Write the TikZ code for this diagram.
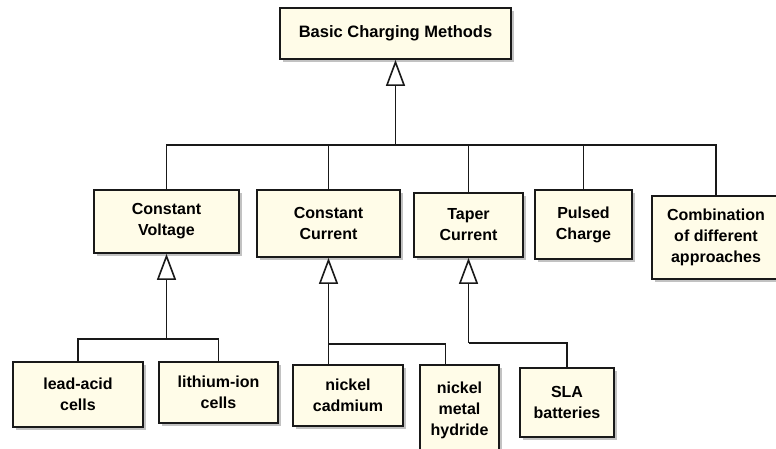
\documentclass[tikz,border=0pt]{standalone}
\usepackage{fontspec}
\setmainfont{Liberation Sans}
\usetikzlibrary{arrows.meta,shadows,calc}
\definecolor{boxfill}{RGB}{255,252,232}
\begin{document}
\begin{tikzpicture}[x=1pt,y=-1pt,
  box/.style={draw=black!90, line width=1.8pt, fill=boxfill, align=center, inner sep=0pt,
    font=\fontsize{16}{21}\selectfont\bfseries,
    drop shadow={shadow xshift=3pt, shadow yshift=-3pt, fill=black!40, opacity=0.6}},
  conn/.style={line width=1.7pt, draw=black!90},
  gen/.style={conn, -{Triangle[open, fill=white, length=26pt, width=19pt, line width=1.6pt]}}]
\useasboundingbox (0,0) rectangle (776,448);
\node[box, minimum width=231pt, minimum height=51pt, font=\fontsize{16.5}{21}\selectfont\bfseries] (top) at (395.5,33.5) {Basic Charging Methods};
\node[box, minimum width=145pt, minimum height=63pt] (cv) at (166.5,221.5) {Constant\\Voltage};
\node[box, minimum width=143pt, minimum height=67pt] (cc) at (328.5,223.5) {Constant\\Current};
\node[box, minimum width=109pt, minimum height=64pt] (tc) at (468.5,225) {Taper\\Current};
\node[box, minimum width=97pt, minimum height=69pt] (pc) at (583.5,224.5) {Pulsed\\Charge};
\node[box, minimum width=128pt, minimum height=83pt] (cb) at (716,237.5) {Combination\\of different\\approaches};
\node[box, minimum width=130pt, minimum height=65pt] (la) at (78,394.5) {lead-acid\\cells};
\node[box, minimum width=119pt, minimum height=61pt] (li) at (218.5,392.5) {lithium-ion\\cells};
\node[box, minimum width=110pt, minimum height=61pt] (ncd) at (348,395.5) {nickel\\cadmium};
\node[box, minimum width=79pt, minimum height=90pt] (nmh) at (459.5,410) {nickel\\metal\\hydride};
\node[box, minimum width=94pt, minimum height=69pt] (sla) at (567,402.5) {SLA\\batteries};
% top level
\path (top.south) ++(0,85) coordinate (b1);
\draw[gen] (b1) -- (top.south);
\draw[conn] (cv.north) |- (b1) -| (cb.north);
\draw[conn] (cc.north) -- (cc.north |- b1);
\draw[conn] (tc.north) -- (tc.north |- b1);
\draw[conn] (pc.north) -- (pc.north |- b1);
% constant voltage
\path (cv.south) ++(0,85) coordinate (b2);
\draw[gen] (b2) -- (cv.south);
\draw[conn] (la.north) |- (b2) -| (li.north);
% constant current
\path (cc.south) ++(0,86) coordinate (b3);
\draw[gen] (b3) -- (cc.south);
\draw[conn] (b3) -- (b3 |- ncd.north);
\draw[conn] (b3) -| ([xshift=-14pt]nmh.north);
% taper current
\path (tc.south) ++(0,85) coordinate (b4);
\draw[gen] (b4) -- (tc.south);
\draw[conn] (b4) -| (sla.north);
\end{tikzpicture}
\end{document}
